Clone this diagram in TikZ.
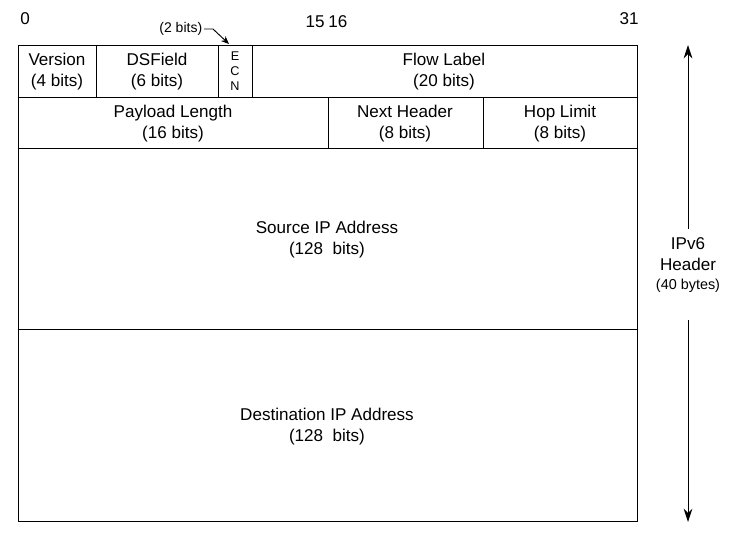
\documentclass[tikz,border=0pt]{standalone}
\usepackage{fontspec}
\setmainfont{Liberation Sans}
\usetikzlibrary{arrows.meta}
\begin{document}
\begin{tikzpicture}[x=0.75pt,y=-0.75pt,line width=0.7pt,
        field/.style={align=center,font=\fontsize{12.8}{15.8}\selectfont},
        bitnum/.style={font=\fontsize{12.8}{14}\selectfont,inner sep=0pt},
        smallnote/.style={font=\fontsize{10.5}{12}\selectfont,inner sep=1pt},
        ecnletter/.style={font=\fontsize{9.5}{11.5}\selectfont,align=center},
        pointer/.style={-{Stealth[length=6pt,width=5pt]}},
        bigpointer/.style={-{Stealth[length=10pt,width=6.5pt]}}]
        \useasboundingbox (0,0) rectangle (731,537);

        % header rows
        \draw (18,45) rectangle (637,521);
        \draw (18,97) -- (637,97);
        \draw (18,148) -- (637,148);
        \draw (18,329) -- (637,329);
        \draw (96,45) -- (96,97);
        \draw (218,45) -- (218,97);
        \draw (252,45) -- (252,97);
        \draw (328,97) -- (328,148);
        \draw (483,97) -- (483,148);

        % bit positions
        \node[bitnum,anchor=south west] (b0) at (20,25) {0};
        \node[bitnum,anchor=south east] (b15) at (325,28) {15};
        \node[bitnum,anchor=south west] (b16) at (328,28) {16};
        \node[bitnum,anchor=south east] (b31) at (639,25) {31};

        % fields
        \node[field] (ver) at (57,72) {Version\\(4 bits)};
        \node[field] (dsf) at (157,72) {DSField\\(6 bits)};
        \node[ecnletter] (ecn) at (235,71) {E\\C\\N};
        \node[field] (flow) at (444,72) {Flow Label\\(20 bits)};
        \node[field] (plen) at (173,124) {Payload Length\\(16 bits)};
        \node[field] (nexth) at (405,124) {Next Header\\(8 bits)};
        \node[field] (hopl) at (560,124) {Hop Limit\\(8 bits)};
        \node[field] (srcip) at (327,240) {Source IP Address\\(128~ bits)};
        \node[field] (dstip) at (327,427) {Destination IP Address\\(128~ bits)};

        % ECN note
        \node[smallnote,anchor=east] (bitsnote) at (204,29) {(2 bits)};
        \coordinate (ecntip) at (229,44);
        \draw[pointer] (bitsnote.east) -- ++(9,0) -- (ecntip);

        % total length
        \node[field] (hdr) at (688,265) {IPv6\\Header\\[-2pt]{\fontsize{10.8}{12}\selectfont (40 bytes)}};
        \coordinate (hdrtop) at (688,45);
        \coordinate (hdrbot) at (688,522);
        \draw[bigpointer] ([yshift=3pt]hdr.north) -- (hdrtop);
        \draw[bigpointer] ([yshift=-17pt]hdr.south) -- (hdrbot);
        \end{tikzpicture}
\end{document}
